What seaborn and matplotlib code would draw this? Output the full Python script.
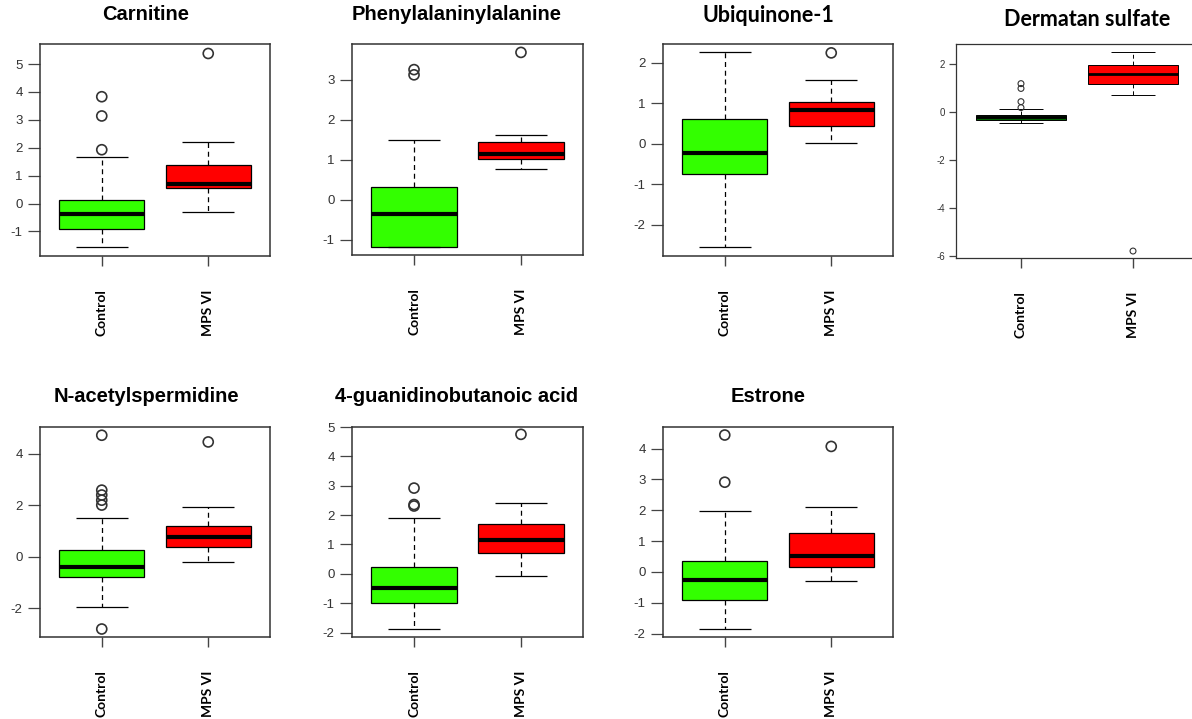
import numpy as np
import pandas as pd
import matplotlib
matplotlib.use("Agg")
import matplotlib.pyplot as plt
import seaborn as sns

# ---------------- data ----------------
metabolites = ["Carnitine", "Phenylalaninylalanine", "Ubiquinone-1", "Dermatan sulfate",
               "N-acetylspermidine", "4-guanidinobutanoic acid", "Estrone"]
groups = ["Control", "MPS VI"]

# five-number summaries: [lower whisker, Q1, median, Q3, upper whisker]
control_stats = [
    [-1.57, -0.92, -0.37, 0.12, 1.68],
    [-1.18, -1.18, -0.36, 0.32, 1.49],
    [-2.56, -0.74, -0.22, 0.61, 2.28],
    [-0.46, -0.33, -0.22, -0.12, 0.12],
    [-1.97, -0.80, -0.39, 0.26, 1.49],
    [-1.87, -1.00, -0.49, 0.25, 1.90],
    [-1.85, -0.90, -0.25, 0.36, 1.97],
]
mps_stats = [
    [-0.29, 0.54, 0.70, 1.39, 2.20],
    [0.77, 1.03, 1.15, 1.44, 1.62],
    [0.02, 0.45, 0.84, 1.03, 1.59],
    [0.71, 1.17, 1.57, 1.97, 2.50],
    [-0.21, 0.36, 0.75, 1.20, 1.91],
    [-0.07, 0.70, 1.16, 1.70, 2.41],
    [-0.28, 0.15, 0.51, 1.27, 2.12],
]
control_outliers = [
    [1.93, 3.14, 3.83],
    [3.12, 3.25],
    [],
    [0.18, 0.43, 0.98, 1.18],
    [-2.81, 2.00, 2.19, 2.39, 2.58, 4.71],
    [2.31, 2.36, 2.92],
    [2.91, 4.44],
]
mps_outliers = [[5.38], [3.68], [2.25], [-5.79], [4.45], [4.75], [4.07]]

y_ticks = [
    [-1, 0, 1, 2, 3, 4, 5],
    [-1, 0, 1, 2, 3],
    [-2, -1, 0, 1, 2],
    [-6, -4, -2, 0, 2],
    [-2, 0, 2, 4],
    [-2, -1, 0, 1, 2, 3, 4, 5],
    [-2, -1, 0, 1, 2, 3, 4],
]

# ---------------- layout / style ----------------
W, H = 1192, 719
# axes boxes in pixels: left, top, right, bottom
boxes_px = [
    (40, 44, 270, 256),
    (352, 44, 583, 255),
    (663, 44, 893, 256),
    (956, 44, 1198, 258),
    (40, 427, 270, 637),
    (352, 427, 583, 637),
    (663, 427, 893, 637),
]
y_limits = [(-1.88, 5.72), (-1.38, 3.89), (-2.78, 2.47), (-6.08, 2.83),
            (-3.12, 5.03), (-2.15, 4.99), (-2.11, 4.70)]
title_pos = [(146, 15), (457, 15), (768, 15), (1087, 20),
             (146, 397), (457, 397), (768, 397)]

sns.set_theme(style="white")
plt.rcParams["font.family"] = ["Liberation Sans", "DejaVu Sans"]
plt.rcParams["axes.unicode_minus"] = False

fig = plt.figure(figsize=(W / 100, H / 100), dpi=100)
fig.patch.set_facecolor("white")

for i, name in enumerate(metabolites):
    l, t, r, b = boxes_px[i]
    ax = fig.add_axes([l / W, 1 - b / H, (r - l) / W, (b - t) / H])
    derm = (name == "Dermatan sulfate")
    ctrl_color = "#006400" if derm else "#33ff00"
    palette = {"Control": ctrl_color, "MPS VI": "#ff0000"}

    df = pd.DataFrame({
        "group": ["Control"] * len(control_stats[i]) + ["MPS VI"] * len(mps_stats[i]),
        "value": control_stats[i] + mps_stats[i],
    })
    lw = 0.7 if derm else 0.9
    sns.boxplot(data=df, x="group", y="value", hue="group", order=groups,
                hue_order=groups, palette=palette, saturation=1, width=0.8,
                whis=np.inf, showfliers=False, linecolor="black", linewidth=lw,
                legend=False, ax=ax,
                whiskerprops=dict(linestyle=(0, (4, 3))),
                capprops=dict(linewidth=0),
                medianprops=dict(linewidth=2.0 if derm else 3.0, color="black"))

    # R-style staples (wider than seaborn's default caps), at the whisker ends
    half_cap = 0.2 if derm else 0.245
    for pos, st in enumerate([control_stats[i], mps_stats[i]]):
        ax.hlines([min(st), max(st)], pos - half_cap, pos + half_cap,
                  colors="black", linewidth=lw, zorder=3)

    ox = [0] * len(control_outliers[i]) + [1] * len(mps_outliers[i])
    oy = control_outliers[i] + mps_outliers[i]
    if oy:
        sns.scatterplot(x=ox, y=oy, ax=ax, marker="o", s=18 if derm else 52,
                        facecolors="none", edgecolor="#333333",
                        linewidth=0.8 if derm else 1.2, legend=False, zorder=5)

    ax.set_xlim(-0.58, 1.58)
    ax.set_ylim(*y_limits[i])
    ax.set_yticks(y_ticks[i])
    ax.set_yticklabels([str(v) for v in y_ticks[i]])
    ax.set_xticks([0, 1])
    ax.set_xticklabels(groups, rotation=90, fontweight="bold",
                       fontsize=10, family=["Lato", "DejaVu Sans"])
    ax.set_xlabel("")
    ax.set_ylabel("")
    for s in ax.spines.values():
        s.set_color("#333333")
        s.set_linewidth(0.9 if derm else 1.1)
    ax.tick_params(axis="y", direction="out", length=5 if derm else 8.5,
                   width=0.9, color="#444444", labelsize=7 if derm else 9.5,
                   labelcolor="#333333", pad=3 if derm else 4, left=True)
    ax.tick_params(axis="x", direction="out", length=7.5, width=1.0,
                   color="#444444", pad=16.5, bottom=True, labelcolor="black")

    tx, ty = title_pos[i]
    if name in ("Ubiquinone-1", "Dermatan sulfate"):
        fam, fs = ["Lato", "DejaVu Sans"], 15.5
    else:
        fam, fs = ["Liberation Sans", "DejaVu Sans"], 14.5
    fig.text(tx / W, 1 - ty / H, name, ha="center", va="center",
             fontsize=fs, fontweight="bold", family=fam, color="black")

fig.savefig("out.png", dpi=100, facecolor="white")
